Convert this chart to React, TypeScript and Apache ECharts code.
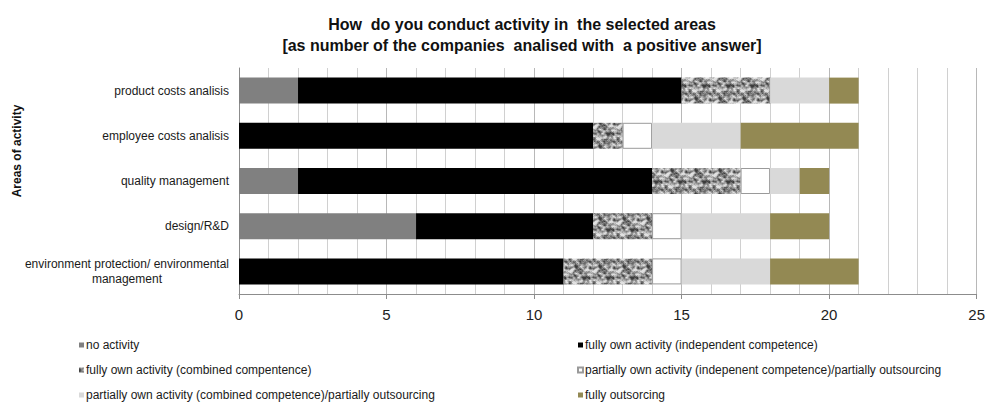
import React, { useEffect, useRef } from "react";
import * as echarts from "echarts";

// Areas of activity (top to bottom)
const categories = [
  "product costs analisis",
  "employee costs analisis",
  "quality management",
  "design/R&D",
  "environment protection/ environmental\nmanagement",
];

// Number of companies per answer, in category order
const noActivity = [2, 0, 2, 6, 0];
const ownIndependent = [13, 12, 12, 6, 11];
const ownCombined = [3, 1, 3, 2, 3];
const partialIndependent = [0, 1, 1, 1, 1];
const partialCombined = [2, 3, 1, 3, 3];
const fullOutsourcing = [1, 4, 1, 2, 3];

const seriesNames = [
  "no activity",
  "fully own activity (independent competence)",
  "fully own activity (combined compentence)",
  "partially own activity (indepenent competence)/partially outsourcing",
  "partially own activity (combined competence)/partially outsourcing",
  "fully outsorcing",
];

const xTicks = [0, 5, 10, 15, 20, 25];

// Granite-like grey texture for the "combined competence" fill
function makeGraniteTexture(): HTMLCanvasElement {
  const size = 24;
  const c = document.createElement("canvas");
  c.width = size;
  c.height = size;
  const ctx = c.getContext("2d")!;
  const hash = (x: number, y: number) => {
    const s = Math.sin(((x + size) % size) * 12.9898 + ((y + size) % size) * 78.233) * 43758.5453;
    return s - Math.floor(s);
  };
  const img = ctx.createImageData(size, size);
  for (let y = 0; y < size; y++) {
    for (let x = 0; x < size; x++) {
      let v = 0;
      let w = 0;
      for (let dy = -1; dy <= 1; dy++) {
        for (let dx = -1; dx <= 1; dx++) {
          const k = dx === 0 && dy === 0 ? 2 : 1;
          v += hash(x + dx, y + dy) * k;
          w += k;
        }
      }
      v /= w;
      const g = Math.max(60, Math.min(225, Math.round((v - 0.5) * 400 + 150)));
      const i = (y * size + x) * 4;
      img.data[i] = g;
      img.data[i + 1] = g;
      img.data[i + 2] = g;
      img.data[i + 3] = 255;
    }
  }
  ctx.putImageData(img, 0, 0);
  return c;
}

export default function App() {
  const ref = useRef<HTMLDivElement>(null);

  useEffect(() => {
    if (!ref.current) return;
    const chart = echarts.init(ref.current, undefined, { renderer: "svg" });
    const tex = makeGraniteTexture();
    const granite: any = {
      image: tex,
      repeat: "repeat",
      imageWidth: tex.width,
      imageHeight: tex.height,
    };

    const font = "'Liberation Sans', Arial, sans-serif";
    const dataSets = [noActivity, ownIndependent, ownCombined, partialIndependent, partialCombined, fullOutsourcing];
    const styles: any[] = [
      { color: "#808080" },
      { color: "#000000" },
      { color: granite },
      { color: "#ffffff", borderColor: "#9a9a9a", borderWidth: 1 },
      { color: "#d9d9d9" },
      { color: "#938953" },
    ];

    const legendBase = {
      orient: "vertical",
      top: 333,
      height: 90,
      itemWidth: 5,
      itemHeight: 5,
      itemGap: 11,
      icon: "rect",
      textStyle: { fontSize: 12, color: "#1a1a1a", fontFamily: font, padding: [0, 0, 0, -3], lineHeight: 14 },
    };

    chart.setOption({
      animation: false,
      textStyle: { fontFamily: font },
      title: {
        text: "How  do you conduct activity in  the selected areas\n[as number of the companies  analised with  a positive answer]",
        left: 517,
        top: 9,
        textAlign: "center",
        textStyle: { fontSize: 16, fontWeight: "bold", color: "#111", lineHeight: 21, fontFamily: font },
      },
      grid: { left: 239, right: 6, top: 68, bottom: 108, containLabel: false },
      xAxis: {
        type: "value",
        min: xTicks[0],
        max: xTicks[xTicks.length - 1],
        interval: 5,
        axisLine: { show: true, lineStyle: { color: "#8c8c8c", width: 1 } },
        axisTick: { show: true, length: 5, lineStyle: { color: "#8c8c8c" } },
        axisLabel: { fontSize: 15, color: "#222", margin: 13, fontFamily: font },
        splitLine: { show: true, lineStyle: { color: "#b8b8b8", width: 1 } },
        minorTick: { show: false, splitNumber: 5 },
        minorSplitLine: { show: true, lineStyle: { color: "#d0d0d0", width: 1 } },
      },
      yAxis: {
        type: "category",
        inverse: true,
        data: categories,
        axisLine: { show: true, lineStyle: { color: "#8c8c8c" } },
        axisTick: { show: false },
        axisLabel: {
          fontSize: 12,
          color: "#1a1a1a",
          margin: 10,
          fontFamily: font,
          formatter: (v: string) =>
            v
              .split("\n")
              .map((s) => `{c|${s}}`)
              .join("\n"),
          rich: { c: { align: "center", fontSize: 12, color: "#1a1a1a", fontFamily: font, lineHeight: 15 } },
        },
      },
      graphic: [
        {
          type: "text",
          x: 17,
          y: 151,
          rotation: Math.PI / 2,
          style: {
            text: "Areas of activity",
            fontSize: 12,
            fontWeight: "bold",
            fill: "#111",
            fontFamily: font,
            align: "center",
            verticalAlign: "middle",
          },
        },
      ],
      legend: [
        { ...legendBase, data: [seriesNames[0], seriesNames[2], seriesNames[4]], left: 74 },
        { ...legendBase, data: [seriesNames[1], seriesNames[3], seriesNames[5]], left: 572 },
      ],
      series: seriesNames.map((name, i) => ({
        name,
        type: "bar",
        stack: "total",
        barWidth: 26,
        data: dataSets[i],
        itemStyle: styles[i],
        emphasis: { disabled: true },
      })),
    });

    return () => chart.dispose();
  }, []);

  return (
    <div
      ref={ref}
      style={{ position: "fixed", left: 0, top: 0, width: 988, height: 402, background: "#fff" }}
    />
  );
}
